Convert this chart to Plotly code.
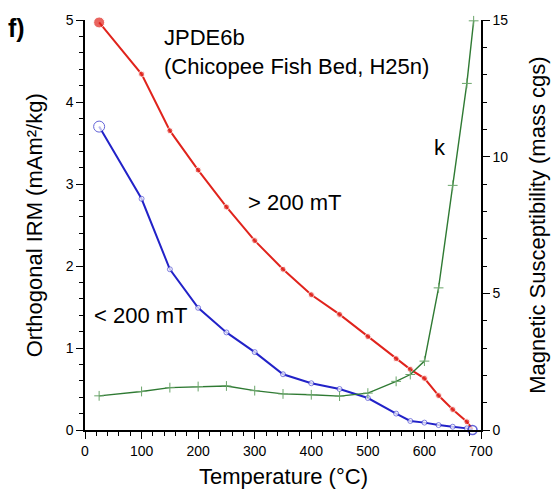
import plotly.graph_objects as go

# ---- data ----
temp_hi = [25, 100, 150, 200, 250, 300, 350, 400, 450, 500, 550, 575, 600, 625, 650, 675, 685]
irm_hi = [4.97, 4.34, 3.65, 3.17, 2.72, 2.31, 1.96, 1.65, 1.41, 1.14, 0.87, 0.74, 0.63, 0.42, 0.25, 0.10, 0.01]

temp_lo = [25, 100, 150, 200, 250, 300, 350, 400, 450, 500, 550, 575, 600, 625, 650, 675, 685]
irm_lo = [3.70, 2.82, 1.96, 1.49, 1.19, 0.95, 0.68, 0.57, 0.50, 0.39, 0.20, 0.11, 0.09, 0.06, 0.04, 0.02, 0.0]

temp_k = [25, 100, 150, 200, 250, 300, 350, 400, 450, 500, 550, 575, 600, 625, 650, 675, 687]
kappa = [1.25, 1.41, 1.55, 1.59, 1.61, 1.44, 1.32, 1.29, 1.24, 1.35, 1.78, 2.03, 2.52, 5.20, 8.95, 12.68, 14.97]

x_ticks = [0, 100, 200, 300, 400, 500, 600, 700]
y_ticks = [0, 1, 2, 3, 4, 5]
y2_ticks = [0, 5, 10, 15]

RED = "#e0231c"
BLUE = "#2222c8"
GREEN = "#2f7a33"
FONT = "Liberation Sans, Arial, Helvetica, sans-serif"

n_hi = len(temp_hi)
n_lo = len(temp_lo)

fig = go.Figure()

fig.add_trace(go.Scatter(
    x=temp_k, y=kappa, yaxis="y2", mode="lines+markers",
    line=dict(color=GREEN, width=1.4),
    marker=dict(symbol="cross-thin", size=7, line=dict(color="#6aa56a", width=1), color=GREEN),
    cliponaxis=False, showlegend=False))

fig.add_trace(go.Scatter(
    x=temp_hi, y=irm_hi, mode="lines+markers",
    line=dict(color=RED, width=2),
    marker=dict(symbol="circle", color=RED,
                size=[11] + [6] * (n_hi - 2) + [0]),
    cliponaxis=False, showlegend=False))

fig.add_trace(go.Scatter(
    x=temp_lo, y=irm_lo, mode="lines+markers",
    line=dict(color=BLUE, width=2),
    marker=dict(symbol="circle", color="white",
                size=[11] + [5] * (n_lo - 2) + [9],
                line=dict(color=BLUE, width=[1] + [0.8] * (n_lo - 2) + [1.6])),
    cliponaxis=False, showlegend=False))

axis_font = dict(family=FONT, size=14, color="black")

fig.update_layout(
    width=554, height=497,
    margin=dict(l=85, r=73, t=14, b=67),
    paper_bgcolor="white", plot_bgcolor="white",
    font=dict(family=FONT, color="black"),
    xaxis=dict(range=[0, 700], tickvals=x_ticks, showgrid=False, zeroline=False,
               showline=True, linecolor="black", linewidth=1.5,
               ticks="outside", ticklen=7, tickwidth=1.2, tickcolor="black",
               tickfont=axis_font,
               minor=dict(dtick=20, ticks="outside", ticklen=4, tickwidth=1, tickcolor="black")),
    yaxis=dict(range=[0, 5], tickvals=y_ticks, showgrid=False, zeroline=False,
               showline=True, linecolor="black", linewidth=1.5,
               ticks="outside", ticklen=7, tickwidth=1.2, tickcolor="black",
               tickfont=axis_font,
               minor=dict(dtick=0.2, ticks="outside", ticklen=4, tickwidth=1, tickcolor="black")),
    yaxis2=dict(range=[0, 15], tickvals=y2_ticks, overlaying="y", side="right", anchor="x",
                showgrid=False, zeroline=False,
                showline=True, linecolor="black", linewidth=1.5,
                ticks="outside", ticklen=7, tickwidth=1.2, tickcolor="black",
                tickfont=axis_font,
                minor=dict(dtick=1, ticks="outside", ticklen=4, tickwidth=1, tickcolor="black")),
)

ann_font = dict(family=FONT, size=22, color="black")
annotations = [
    dict(x=135.6, y=4.61, xref="x", yref="y",
         text="JPDE6b<br>(Chicopee Fish Bed, H25n)", showarrow=False, align="left",
         xanchor="left", yanchor="middle", font=ann_font),
    dict(x=284, y=2.78, xref="x", yref="y", text="> 200 mT", showarrow=False,
         xanchor="left", yanchor="middle", font=ann_font),
    dict(x=12, y=1.40, xref="x", yref="y", text="< 200 mT", showarrow=False,
         xanchor="left", yanchor="middle", font=ann_font),
    dict(x=613, y=3.45, xref="x", yref="y", text="k", showarrow=False,
         xanchor="left", yanchor="middle", font=ann_font),
    dict(x=(6 - 85) / 396, y=(430 - 22) / 416, xref="paper", yref="paper", text="<b>f)</b>",
         showarrow=False, xanchor="left", yanchor="middle",
         font=dict(family=FONT, size=25, color="black")),
    dict(x=-0.128, y=0.5, xref="paper", yref="paper", text="Orthogonal IRM (mAm²/kg)",
         textangle=-90, showarrow=False, xanchor="center", yanchor="middle", font=ann_font),
    dict(x=1.141, y=0.5, xref="paper", yref="paper", text="Magnetic Susceptibility (mass cgs)",
         textangle=-90, showarrow=False, xanchor="center", yanchor="middle", font=ann_font),
    dict(x=0.5, y=-0.113, xref="paper", yref="paper", text="Temperature (°C)",
         showarrow=False, xanchor="center", yanchor="middle", font=ann_font),
]
fig.update_layout(annotations=annotations)

fig.write_html("out.html")
